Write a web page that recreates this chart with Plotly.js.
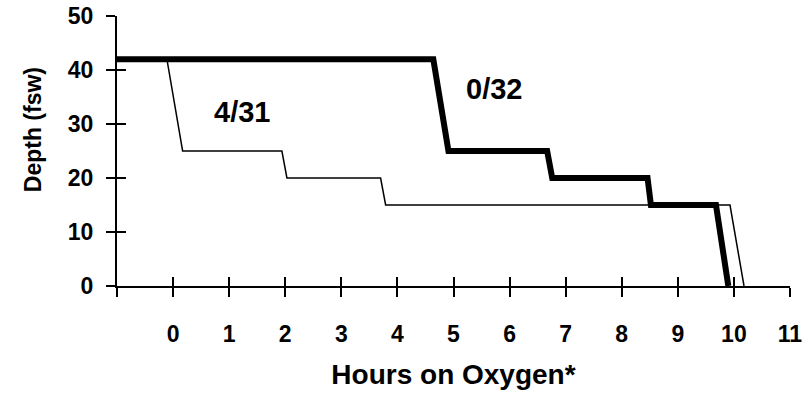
<!DOCTYPE html>
<html>
<head>
<meta charset="utf-8">
<script src="https://cdn.plot.ly/plotly-3.0.1.min.js"></script>
<style>
  html, body { margin: 0; padding: 0; background: #fff; }
  #chart { width: 803px; height: 396px; }
</style>
</head>
<body>
<div id="chart"></div>
<script>
// Data
const hours0of32 = [-1, 4.64, 4.91, 6.67, 6.76, 8.46, 8.52, 9.68, 9.90];
const depth0of32 = [42, 42, 25, 25, 20, 20, 15, 15, 0];

const hours4of31 = [-1, -0.11, 0.17, 1.94, 2.03, 3.70, 3.79, 9.93, 10.18];
const depth4of31 = [42, 42, 25, 25, 20, 20, 15, 15, 0];

const xTickVals = [-1, 0, 1, 2, 3, 4, 5, 6, 7, 8, 9, 10, 11];
const xTickText = ['', '0', '1', '2', '3', '4', '5', '6', '7', '8', '9', '10', '11'];
const yTickVals = [0, 10, 20, 30, 40, 50];

const labelNames = ['4/31', '0/32'];
const labelX = [1.22, 5.73];
const labelY = [32.2, 36.4];

const FONT = 'Arial, "Liberation Sans", sans-serif';

const traces = [
  {
    x: hours4of31, y: depth4of31, type: 'scatter', mode: 'lines',
    line: { color: '#000', width: 1.5 },
    xaxis: 'x', yaxis: 'y', hoverinfo: 'skip'
  },
  {
    x: hours0of32, y: depth0of32, type: 'scatter', mode: 'lines',
    line: { color: '#000', width: 6 },
    xaxis: 'x2', yaxis: 'y2', hoverinfo: 'skip'
  }
];

const axisCommonX = {
  range: [-1, 11], tickmode: 'array', tickvals: xTickVals,
  showgrid: false, zeroline: false, ticklen: 9, tickwidth: 2, tickcolor: '#000'
};
const axisCommonY = {
  range: [0, 50], tickmode: 'array', tickvals: yTickVals,
  showgrid: false, zeroline: false, ticklen: 9, tickwidth: 2, tickcolor: '#000'
};

const layout = {
  width: 803, height: 396,
  margin: { l: 117, r: 13, t: 16, b: 110 },
  paper_bgcolor: '#fff', plot_bgcolor: '#fff',
  showlegend: false,
  font: { family: FONT, color: '#000' },
  xaxis: Object.assign({}, axisCommonX, {
    ticks: 'outside', ticktext: xTickText,
    showline: true, linecolor: '#000', linewidth: 2,
    tickfont: { family: FONT, size: 23, weight: 'bold', color: '#000' },
    ticklabelstandoff: 17,
    ticklabeloverflow: 'allow',
    title: { text: 'Hours on Oxygen*', standoff: 19,
             font: { family: FONT, size: 28, weight: 'bold', color: '#000' } },
    automargin: false
  }),
  yaxis: Object.assign({}, axisCommonY, {
    ticks: 'outside',
    showline: true, linecolor: '#000', linewidth: 2,
    tickfont: { family: FONT, size: 23, weight: 'bold', color: '#000' },
    ticklabelstandoff: 8,
    automargin: false
  }),
  xaxis2: Object.assign({}, axisCommonX, {
    overlaying: 'x', anchor: 'y2', side: 'bottom',
    ticks: 'inside', showticklabels: false, showline: false
  }),
  yaxis2: Object.assign({}, axisCommonY, {
    overlaying: 'y', anchor: 'x2', side: 'left',
    ticks: 'inside', showticklabels: false, showline: false
  }),
  annotations: [
    {
      xref: 'paper', yref: 'paper', x: (33 - 117) / 673, y: 0.577,
      xanchor: 'center', yanchor: 'middle', textangle: -90, showarrow: false,
      text: 'Depth (fsw)',
      font: { family: FONT, size: 23, weight: 'bold', color: '#000' }
    }
  ].concat(labelNames.map((t, i) => ({
    xref: 'x', yref: 'y', x: labelX[i], y: labelY[i],
    xanchor: 'center', yanchor: 'middle', showarrow: false, text: t,
    font: { family: FONT, size: 29, weight: 'bold', color: '#000' }
  })))
};

Plotly.newPlot('chart', traces, layout, { displayModeBar: false, staticPlot: true });
</script>
</body>
</html>
